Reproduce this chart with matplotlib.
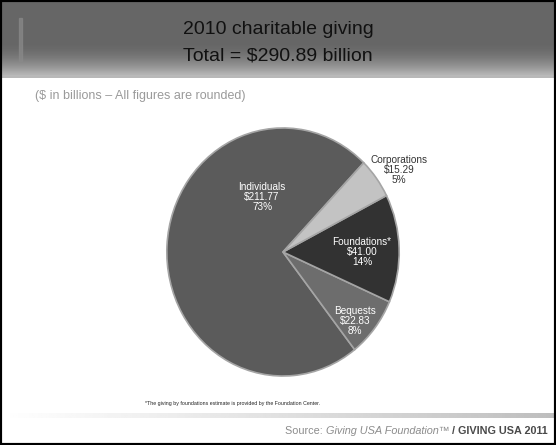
import numpy as np
import matplotlib.pyplot as plt
from matplotlib.patches import Rectangle

# data
categories = ['Individuals', 'Bequests', 'Foundations*', 'Corporations']
amounts = [211.77, 22.83, 41.00, 15.29]
total = 290.89
slice_colors = ['#5b5b5b', '#6d6d6d', '#323232', '#c3c3c3']

W, H = 556, 445
sans = ['Liberation Sans', 'DejaVu Sans']

fig = plt.figure(figsize=(W / 100, H / 100), dpi=100)
fig.patch.set_facecolor('white')

# header band with vertical gradient
head = fig.add_axes([0, 1 - 78 / H, 1, 78 / H])
g = np.ones(78) * 0.40
ramp = np.linspace(0, 1, 36)
g[42:] = 0.40 + 0.36 * ramp ** 1.8
g[-2:] = 0.72
head.imshow(g[:, None], cmap='gray', vmin=0, vmax=1, aspect='auto',
            extent=[0, 1, 0, 1])
head.add_patch(Rectangle((0.034, 0.22), 0.006, 0.55, color='#8a8a8a', alpha=0.7))
head.set_xlim(0, 1)
head.set_ylim(0, 1)
head.axis('off')

fig.text(0.5, 1 - 30 / H, '2010 charitable giving', ha='center', va='center',
         fontsize=14, color='#111111', family=sans)
fig.text(0.5, 1 - 56 / H, 'Total = $%.2f billion' % total, ha='center', va='center',
         fontsize=14, color='#111111', family=sans)

fig.text(35 / W, 1 - 96 / H, '($ in billions \u2013 All figures are rounded)',
         ha='left', va='center', fontsize=9, color='#9a9a9a', family=sans)

# pie (slightly taller than wide, as in the source slide)
cx, cy, rx, ry = 283, 252, 118.5, 126.5
ax = fig.add_axes([(cx - rx) / W, (H - cy - ry) / H, 2 * rx / W, 2 * ry / H])
wedges, _ = ax.pie(amounts, colors=slice_colors, startangle=46, counterclock=True,
                   wedgeprops=dict(edgecolor='#a5a5a5', linewidth=1.2))
ax.set_aspect('auto')
ax.set_xlim(-1.02, 1.02)
ax.set_ylim(-1.02, 1.02)
ax.axis('off')

label_pos = [(-0.18, 0.44), (0.62, -0.56), (0.68, 0.0), (1.0, 0.66)]
label_col = ['white', 'white', 'white', '#333333']
for name, val, (lx, ly), c in zip(categories, amounts, label_pos, label_col):
    ax.text(lx, ly, '%s\n$%.2f\n%.0f%%' % (name, val, 100 * val / total),
            ha='center', va='center', fontsize=7.2, color=c, linespacing=1.0,
            family=sans, clip_on=False)

fig.text(145 / W, 1 - 403 / H,
         '*The giving by foundations estimate is provided by the Foundation Center.',
         ha='left', va='center', fontsize=3.8, color='#222222', family=sans)

# footer separator
line_ax = fig.add_axes([0, 1 - 418 / H, 1, 5 / H])
sep = np.linspace(1.0, 0.55, 200) ** 0.5
line_ax.imshow(sep[None, :], cmap='gray', vmin=0, vmax=1, aspect='auto',
               extent=[0, 1, 0, 1])
line_ax.axis('off')

# source line, assembled right to left
renderer = fig.canvas.get_renderer()
x = 548 / W
yy = 1 - 431 / H
parts = [(' / GIVING USA 2011', 'bold', 'normal', '#4a4a4a'),
         ('Giving USA Foundation\u2122', 'normal', 'italic', '#8c8c8c'),
         ('Source: ', 'normal', 'normal', '#8c8c8c')]
for txt, wt, st, col in parts:
    t = fig.text(x, yy, txt, ha='right', va='center', fontsize=7.8, color=col,
                 fontweight=wt, fontstyle=st, family=sans)
    bb = t.get_window_extent(renderer)
    x = bb.x0 / W

# outer frame
fig.add_artist(Rectangle((0, 0), 1, 1, transform=fig.transFigure, fill=False,
                         edgecolor='black', linewidth=3))

fig.savefig('out.png', dpi=100)
